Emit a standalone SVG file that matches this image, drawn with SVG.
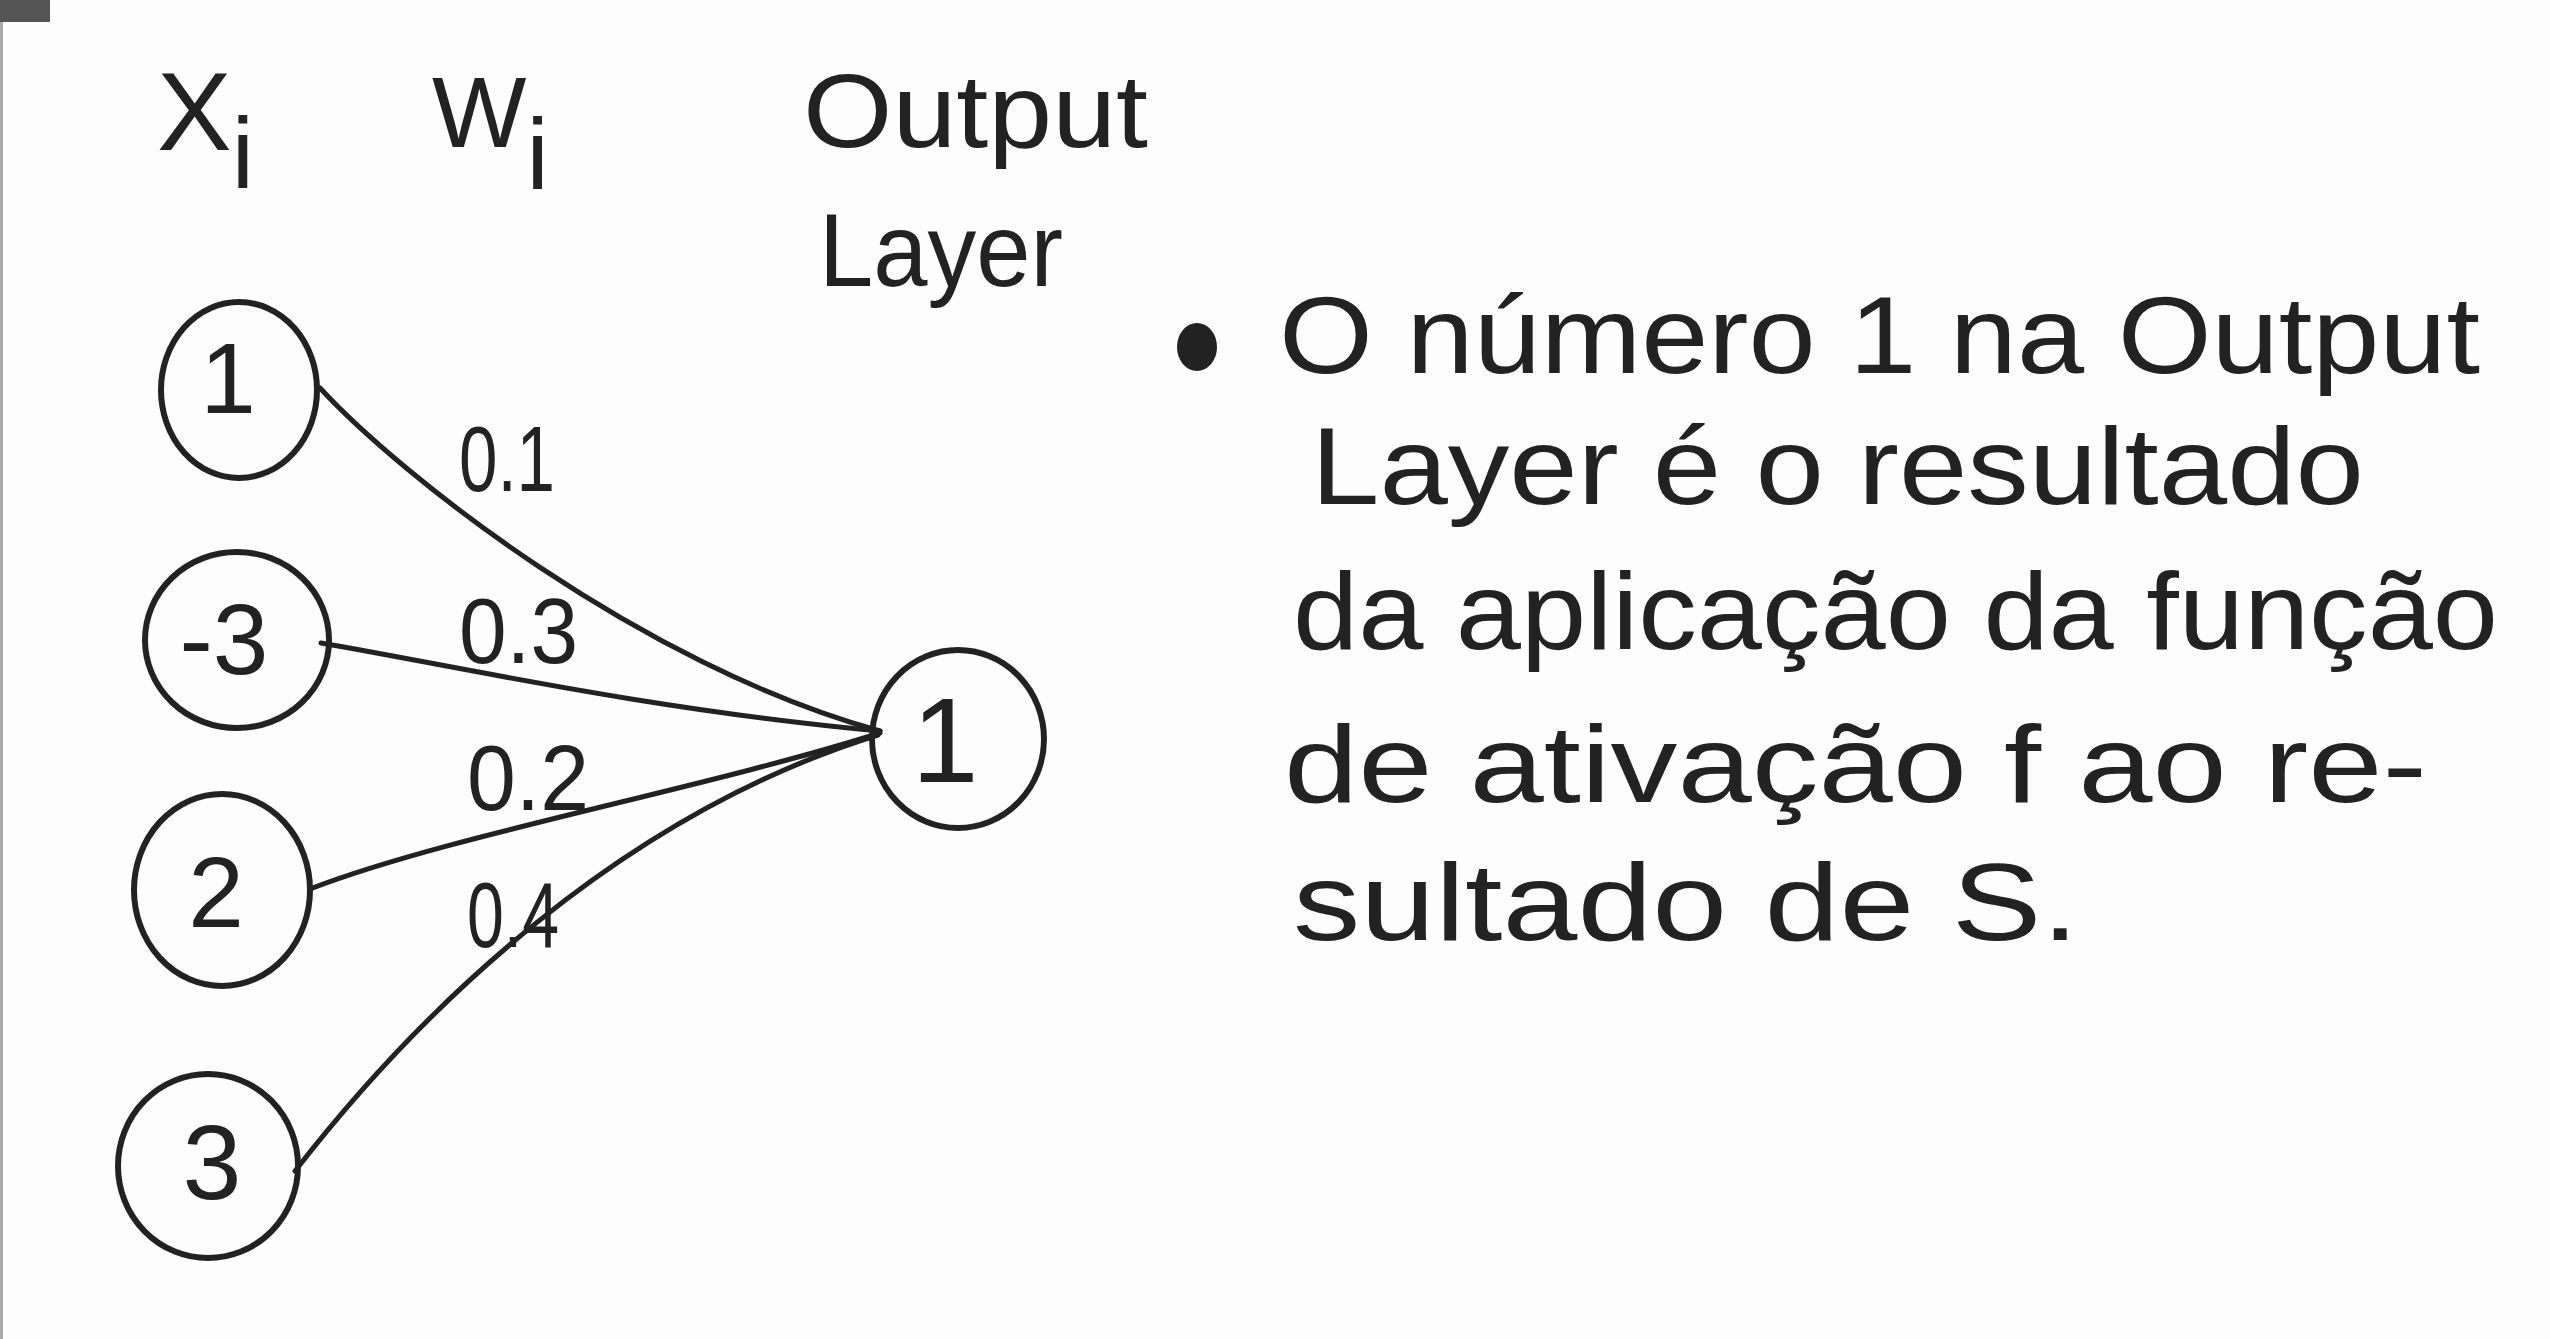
<svg xmlns="http://www.w3.org/2000/svg" width="2550" height="1339" viewBox="0 0 2550 1339">
<style>
.node ellipse{fill:none;stroke:#222;stroke-width:6}
.num{font-family:"Liberation Sans",Arial,sans-serif;fill:#222;text-anchor:middle}
.edge{fill:none;stroke:#222;stroke-width:5;stroke-linecap:round}
.lbl{font-family:"Liberation Sans",Arial,sans-serif;fill:#222}
.note{font-family:"Liberation Sans",Arial,sans-serif;fill:#222;font-size:110px}
</style>
<rect width="2550" height="1339" fill="#fdfdfd"/>
<rect x="0" y="0" width="50" height="22" fill="#555"/>
<line x1="1.5" y1="22" x2="1.5" y2="1339" stroke="#aaa" stroke-width="3"/>

<g id="headers">
<text class="lbl" x="157" y="150" font-size="112">X<tspan dy="38" font-size="100">i</tspan></text>
<text class="lbl" x="432" y="147" font-size="100">W<tspan dy="42" font-size="100">i</tspan></text>
<text class="lbl" x="803" y="147" font-size="104" textLength="345" lengthAdjust="spacingAndGlyphs">Output</text>
<text class="lbl" x="819" y="286" font-size="104" textLength="244" lengthAdjust="spacingAndGlyphs">Layer</text>
</g>

<g id="connectors">
<path class="edge" d="M320,388 C400,475 640,665 880,731"/>
<path class="edge" d="M321,643 C450,665 650,710 880,731"/>
<path class="edge" d="M310,889 C450,835 700,790 880,733"/>
<path class="edge" d="M295,1171 C420,1010 620,815 878,735"/>
</g>

<g id="weights">
<text class="lbl" x="459" y="491" font-size="92" textLength="96" lengthAdjust="spacingAndGlyphs">0.1</text>
<text class="lbl" x="459" y="663" font-size="92" textLength="119" lengthAdjust="spacingAndGlyphs">0.3</text>
<text class="lbl" x="467" y="810" font-size="92" textLength="122" lengthAdjust="spacingAndGlyphs">0.2</text>
<text class="lbl" x="467" y="947" font-size="92" textLength="92" lengthAdjust="spacingAndGlyphs">0.4</text>
</g>

<g id="node-x1" class="node">
<ellipse cx="239" cy="390" rx="78" ry="88"/>
<text class="num" x="228" y="413" font-size="100">1</text>
</g>
<g id="node-x2" class="node">
<ellipse cx="237" cy="640" rx="92" ry="88"/>
<text class="num" x="224" y="674" font-size="100">-3</text>
</g>
<g id="node-x3" class="node">
<ellipse cx="222" cy="890" rx="88" ry="96"/>
<text class="num" x="216" y="927" font-size="100">2</text>
</g>
<g id="node-x4" class="node">
<ellipse cx="208" cy="1166" rx="90" ry="92"/>
<text class="num" x="212" y="1199" font-size="106">3</text>
</g>
<g id="node-out" class="node">
<ellipse cx="958" cy="739" rx="86" ry="89"/>
<text class="num" x="945" y="782" font-size="120">1</text>
</g>

<g id="note">
<ellipse cx="1197" cy="347" rx="20" ry="24" fill="#222"/>
<text class="note" x="1279" y="373" textLength="1201" lengthAdjust="spacingAndGlyphs">O número 1 na Output</text>
<text class="note" x="1311" y="504" textLength="1053" lengthAdjust="spacingAndGlyphs">Layer é o resultado</text>
<text class="note" x="1293" y="649" textLength="1205" lengthAdjust="spacingAndGlyphs">da aplicação da função</text>
<text class="note" x="1284" y="802" textLength="1143" lengthAdjust="spacingAndGlyphs">de ativação f ao re-</text>
<text class="note" x="1293" y="940" textLength="786" lengthAdjust="spacingAndGlyphs">sultado de S.</text>
</g>
</svg>
